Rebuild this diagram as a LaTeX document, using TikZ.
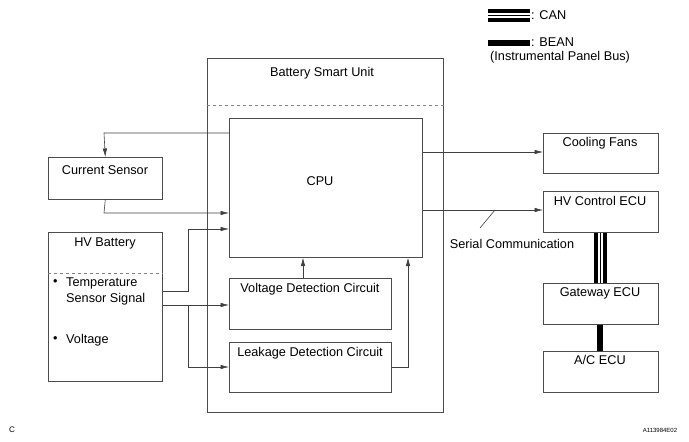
\documentclass[tikz,border=0pt]{standalone}
\usepackage{fontspec}
\setmainfont{Liberation Sans}
\usetikzlibrary{arrows.meta}
\tikzset{
  box/.style={draw=black!70, line width=0.6pt, anchor=north west, inner sep=0pt},
  lbl/.style={font=\fontsize{12.7}{14}\selectfont, inner sep=0pt, anchor=center},
  conn/.style={draw=black!75, line width=0.6pt},
  arr/.style={conn, -{Latex[length=8.5pt,width=4.5pt]}},
  sep/.style={draw=black!50, line width=0.6pt, dash pattern=on 3pt off 3pt},
}
\newcommand{\mkbox}[5]{\node[box, minimum width=#4pt-#2pt, minimum height=#5pt-#3pt] (#1) at (#2,#3) {};}
\begin{document}
\begin{tikzpicture}[x=1pt,y=-1pt]
\useasboundingbox (0,0) rectangle (689,442);
% boxes
\mkbox{bsu}{207}{58}{443}{412}
\mkbox{cpu}{229}{118}{422}{257}
\mkbox{vdc}{229}{278}{391}{329}
\mkbox{ldc}{229}{342}{391}{392}
\mkbox{cs}{48}{157}{162}{199}
\mkbox{hvb}{48}{232}{162}{381}
\mkbox{cf}{543}{133}{658}{173}
\mkbox{hvc}{543}{191}{658}{232}
\mkbox{gw}{543}{283}{658}{324}
\mkbox{ac}{543}{351}{658}{392}
% separators
\draw[sep] (bsu.west |- 0,105) -- (bsu.east |- 0,105);
\draw[sep] (hvb.west |- 0,273) -- (hvb.east |- 0,273);
% labels
\node[lbl] (tbsu) at (322,73) {Battery Smart Unit};
\node[lbl] (tcpu) at (320,181) {CPU};
\node[lbl] (tvdc) at (310,289) {Voltage Detection Circuit};
\node[lbl] (tldc) at (310,353) {Leakage Detection Circuit};
\node[lbl] (tcs) at (105,170) {Current Sensor};
\node[lbl] (thvb) at (105,243) {HV Battery};
\node[lbl, anchor=west] (tb1) at (53,283) {\textbullet};
\node[lbl, anchor=west] (tt1) at (66,283) {Temperature};
\node[lbl, anchor=west] (tt2) at (66,299) {Sensor Signal};
\node[lbl, anchor=west] (tb2) at (53,340) {\textbullet};
\node[lbl, anchor=west] (tv) at (66,340) {Voltage};
\node[lbl] (tcf) at (600,143) {Cooling Fans};
\node[lbl] (thvc) at (600,201) {HV Control ECU};
\node[lbl] (tgw) at (600,293) {Gateway ECU};
\node[lbl] (tac) at (600,360) {A/C ECU};
\node[lbl] (tsc) at (512,244) {Serial Communication};
% connectors
\coordinate (p1) at (104,133);
\draw[arr] (cpu.west |- p1) -- (p1) -- (cs.north);
\coordinate (p2) at (104,213);
\draw[arr] (cs.south) -- (p2) -- (cpu.west |- p2);
\coordinate (q1) at (188,291);
\coordinate (q2) at (188,229);
\draw[arr] (hvb.east |- q1) -- (q1) -- (q2) -- (cpu.west |- q2);
\coordinate (q3) at (188,305);
\draw[arr] (hvb.east |- q3) -- (vdc.west |- q3);
\coordinate (q4) at (188,367);
\draw[arr] (q3) -- (q4) -- (ldc.west |- q4);
\coordinate (v1) at (303,0);
\draw[arr] (vdc.north -| v1) -- (cpu.south -| v1);
\coordinate (l1) at (408,367);
\draw[arr] (ldc.east |- l1) -- (l1) -- (cpu.south -| l1);
\coordinate (c1) at (0,152);
\draw[arr] (cpu.east |- c1) -- (cf.west |- c1);
\coordinate (c2) at (0,210);
\draw[arr] (cpu.east |- c2) -- (hvc.west |- c2);
\coordinate (s1) at (495,210);
\coordinate (s2) at (480,228);
\draw[conn] (s1) -- (s2);
% CAN bus
\coordinate (k) at (600.5,0);
\draw[line width=13pt] (hvc.south -| k) -- (gw.north -| k);
\draw[white, line width=4.6pt] (hvc.south -| k) -- (gw.north -| k);
\draw[line width=1pt] (hvc.south -| k) -- (gw.north -| k);
% BEAN bus
\coordinate (b) at (600,0);
\draw[line width=6pt] (gw.south -| b) -- (ac.north -| b);
% legend
\coordinate (lc1) at (488,15.5);
\coordinate (lc2) at (530,15.5);
\draw[line width=13pt] (lc1) -- (lc2);
\draw[white, line width=4.6pt] (lc1) -- (lc2);
\draw[line width=1pt] (lc1) -- (lc2);
\node[lbl, anchor=west] (tcan) at (531,15.5) {: CAN};
\coordinate (lb1) at (488,42.5);
\coordinate (lb2) at (530,42.5);
\draw[line width=6pt] (lb1) -- (lb2);
\node[lbl, anchor=west] (tbean) at (531,42.5) {: BEAN};
\node[lbl, anchor=west] (tipb) at (490,57) {(Instrumental Panel Bus)};
% corner marks
\node[font=\fontsize{8}{9}\selectfont, inner sep=0pt] (tc) at (12,430) {C};
\node[font=\fontsize{6}{7}\selectfont, inner sep=0pt] (tid) at (660,430) {A113984E02};
\end{tikzpicture}
\end{document}
